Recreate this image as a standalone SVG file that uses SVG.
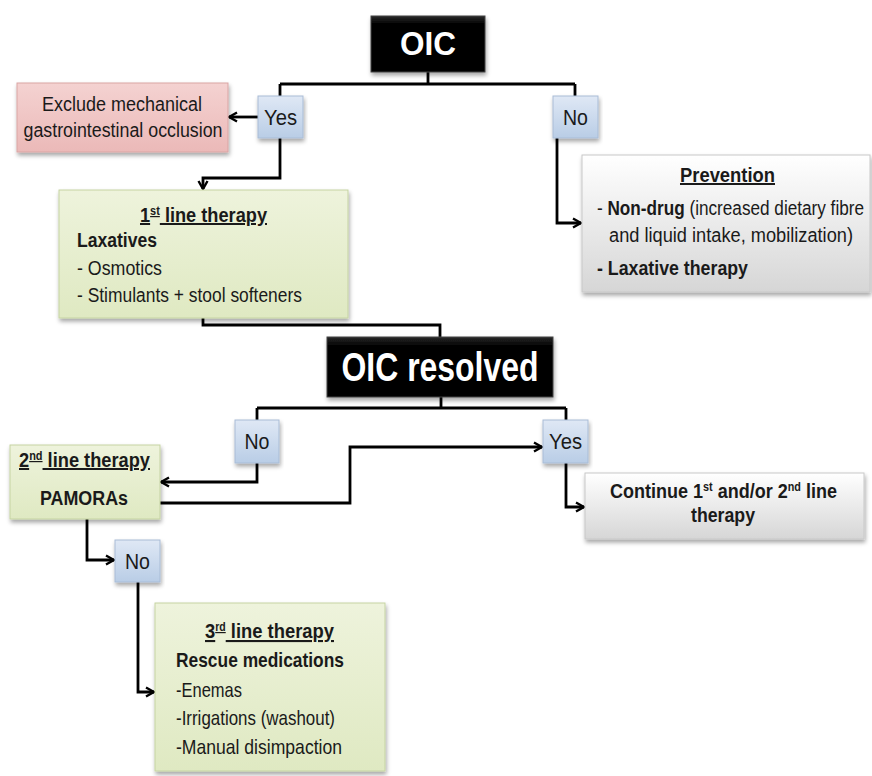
<svg xmlns="http://www.w3.org/2000/svg" width="872" height="776" viewBox="0 0 872 776">
<defs>
<linearGradient id="gBlack" x1="0" y1="0" x2="0" y2="1"><stop offset="0" stop-color="#2a2a2a"/><stop offset="0.15" stop-color="#000"/><stop offset="1" stop-color="#000"/></linearGradient>
<linearGradient id="gBlue" x1="0" y1="0" x2="0" y2="1"><stop offset="0" stop-color="#dfe8f5"/><stop offset="1" stop-color="#b9cde6"/></linearGradient>
<linearGradient id="gPink" x1="0" y1="0" x2="0" y2="1"><stop offset="0" stop-color="#f4d2d1"/><stop offset="1" stop-color="#ebb9b8"/></linearGradient>
<linearGradient id="gGreen" x1="0" y1="0" x2="0" y2="1"><stop offset="0" stop-color="#eef3dc"/><stop offset="1" stop-color="#dfe9c2"/></linearGradient>
<linearGradient id="gGrey" x1="0" y1="0" x2="0" y2="1"><stop offset="0" stop-color="#ffffff"/><stop offset="1" stop-color="#d6d6d6"/></linearGradient>
<filter id="sh" x="-10%" y="-10%" width="120%" height="130%"><feDropShadow dx="1" dy="3" stdDeviation="2" flood-color="#000" flood-opacity="0.35"/></filter>
<marker id="arr" viewBox="0 0 12 12" refX="11" refY="6" markerWidth="12" markerHeight="12" markerUnits="userSpaceOnUse" orient="auto"><path d="M3,1.5 L11,6 L3,10.5" fill="none" stroke="#000" stroke-width="2.4"/></marker>
</defs>
<style>
.t{font-family:"Liberation Sans",Arial,sans-serif;fill:#1a1a1a}
.b{font-weight:bold}
.w{fill:#fff;font-weight:bold}
.sup{font-size:12px}
.c{stroke:#000;stroke-width:2.8;fill:none}
.box{filter:url(#sh)}
.blk{fill:url(#gBlack);stroke:#444;stroke-width:1}
.blu{fill:url(#gBlue);stroke:#a9bcd6;stroke-width:1}
.pnk{fill:url(#gPink);stroke:#d9a5a4;stroke-width:1}
.grn{fill:url(#gGreen);stroke:#c5d3a2;stroke-width:1}
.gry{fill:url(#gGrey);stroke:#c8c8c8;stroke-width:1}
</style>
<rect width="872" height="776" fill="#fff"/>

<g id="connectors">
<path class="c" d="M428,72 V84 M280,84 H575 M280,84 V96 M575,84 V96"/>
<path class="c" d="M258,117 H229" marker-end="url(#arr)"/>
<path class="c" d="M280,138 V178 H203 V189" marker-end="url(#arr)"/>
<path class="c" d="M557,138 V223 H581" marker-end="url(#arr)"/>
<path class="c" d="M203,318 V325 H440 V337"/>
<path class="c" d="M441,397 V408 M257,408 H566 M257,408 V420 M566,408 V420"/>
<path class="c" d="M257,463 V482 H161" marker-end="url(#arr)"/>
<path class="c" d="M160,503 H350 V447 H542" marker-end="url(#arr)"/>
<path class="c" d="M566,463 V507 H584" marker-end="url(#arr)"/>
<path class="c" d="M87,519 V560 H114" marker-end="url(#arr)"/>
<path class="c" d="M138,582 V692 H154" marker-end="url(#arr)"/>
</g>

<g id="oic">
<rect class="box blk" x="371" y="16" width="114" height="56"/>
<text class="t w" x="428" y="55" font-size="33" text-anchor="middle" textLength="56" lengthAdjust="spacingAndGlyphs">OIC</text>
</g>

<g id="yes1">
<rect class="box blu" x="258" y="96" width="45" height="42"/>
<text class="t" x="280.5" y="125" font-size="22" text-anchor="middle" textLength="33" lengthAdjust="spacingAndGlyphs">Yes</text>
</g>

<g id="no1">
<rect class="box blu" x="553" y="96" width="45" height="42"/>
<text class="t" x="575.5" y="125" font-size="22" text-anchor="middle" textLength="25" lengthAdjust="spacingAndGlyphs">No</text>
</g>

<g id="exclude">
<rect class="box pnk" x="17" y="83" width="211" height="69"/>
<text class="t" x="122" y="111" font-size="20" text-anchor="middle" textLength="160" lengthAdjust="spacingAndGlyphs">Exclude mechanical</text>
<text class="t" x="123" y="137" font-size="20" text-anchor="middle" textLength="199" lengthAdjust="spacingAndGlyphs">gastrointestinal occlusion</text>
</g>

<g id="first-line">
<rect class="box grn" x="59" y="190" width="289" height="128"/>
<text class="t b" x="140" y="222" font-size="20" text-decoration="underline" textLength="127" lengthAdjust="spacingAndGlyphs">1<tspan class="sup" baseline-shift="super">st</tspan> line therapy</text>
<text class="t b" x="77" y="247" font-size="20" textLength="80" lengthAdjust="spacingAndGlyphs">Laxatives</text>
<text class="t" x="77" y="275" font-size="20" textLength="85" lengthAdjust="spacingAndGlyphs">- Osmotics</text>
<text class="t" x="77" y="302" font-size="20" textLength="225" lengthAdjust="spacingAndGlyphs">- Stimulants + stool softeners</text>
</g>

<g id="prevention">
<rect class="box gry" x="582" y="155" width="288" height="137"/>
<text class="t b" x="680" y="182" font-size="20" text-decoration="underline" textLength="95" lengthAdjust="spacingAndGlyphs">Prevention</text>
<text class="t" x="597" y="215" font-size="20" textLength="267" lengthAdjust="spacingAndGlyphs">- <tspan class="b">Non-drug</tspan> (increased dietary fibre</text>
<text class="t" x="609" y="242" font-size="20" textLength="244" lengthAdjust="spacingAndGlyphs">and liquid intake, mobilization)</text>
<text class="t b" x="597" y="275" font-size="20" textLength="151" lengthAdjust="spacingAndGlyphs">- Laxative therapy</text>
</g>

<g id="oic-resolved">
<rect class="box blk" x="327" y="337" width="226" height="60"/>
<text class="t w" x="440" y="381" font-size="41" text-anchor="middle" textLength="197" lengthAdjust="spacingAndGlyphs">OIC resolved</text>
</g>

<g id="no2">
<rect class="box blu" x="235" y="420" width="44" height="43"/>
<text class="t" x="257" y="449" font-size="22" text-anchor="middle" textLength="25" lengthAdjust="spacingAndGlyphs">No</text>
</g>

<g id="yes2">
<rect class="box blu" x="543" y="420" width="45" height="43"/>
<text class="t" x="565.5" y="449" font-size="22" text-anchor="middle" textLength="33" lengthAdjust="spacingAndGlyphs">Yes</text>
</g>

<g id="second-line">
<rect class="box grn" x="10" y="445" width="150" height="74"/>
<text class="t b" x="19" y="467" font-size="20" text-decoration="underline" textLength="131" lengthAdjust="spacingAndGlyphs">2<tspan class="sup" baseline-shift="super">nd</tspan> line therapy</text>
<text class="t b" x="84" y="505" font-size="20" text-anchor="middle" textLength="88" lengthAdjust="spacingAndGlyphs">PAMORAs</text>
</g>

<g id="continue">
<rect class="box gry" x="585" y="473" width="279" height="66"/>
<text class="t b" x="610" y="498" font-size="20" textLength="227" lengthAdjust="spacingAndGlyphs">Continue 1<tspan class="sup" baseline-shift="super">st</tspan> and/or 2<tspan class="sup" baseline-shift="super">nd</tspan> line</text>
<text class="t b" x="723" y="522" font-size="20" text-anchor="middle" textLength="64" lengthAdjust="spacingAndGlyphs">therapy</text>
</g>

<g id="no3">
<rect class="box blu" x="115" y="540" width="45" height="42"/>
<text class="t" x="137.5" y="569" font-size="22" text-anchor="middle" textLength="25" lengthAdjust="spacingAndGlyphs">No</text>
</g>

<g id="third-line">
<rect class="box grn" x="155" y="603" width="230" height="168"/>
<text class="t b" x="205" y="638" font-size="21" text-decoration="underline" textLength="129" lengthAdjust="spacingAndGlyphs">3<tspan class="sup" baseline-shift="super">rd</tspan> line therapy</text>
<text class="t b" x="176" y="667" font-size="21" textLength="168" lengthAdjust="spacingAndGlyphs">Rescue medications</text>
<text class="t" x="176" y="697" font-size="21" textLength="66" lengthAdjust="spacingAndGlyphs">-Enemas</text>
<text class="t" x="176" y="725" font-size="21" textLength="159" lengthAdjust="spacingAndGlyphs">-Irrigations (washout)</text>
<text class="t" x="176" y="754" font-size="21" textLength="166" lengthAdjust="spacingAndGlyphs">-Manual disimpaction</text>
</g>
</svg>
